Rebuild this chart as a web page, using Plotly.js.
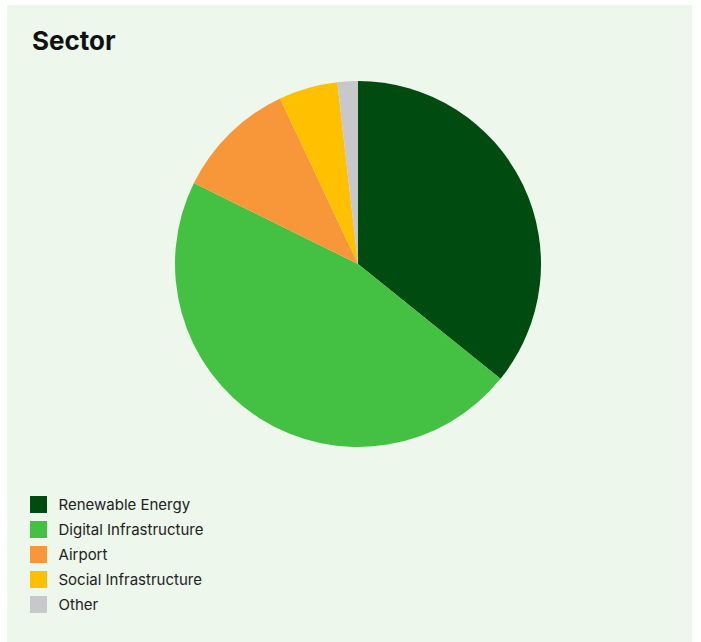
<!DOCTYPE html>
<html>
<head>
<meta charset="utf-8">
<script src="https://cdn.plot.ly/plotly-3.0.1.min.js"></script>
<style>
  html, body { margin: 0; padding: 0; background: #ffffff; }
  #chart { position: absolute; left: 7px; top: 5px; width: 685px; height: 637px; }
</style>
</head>
<body>
<div id="chart"></div>
<script>
const labels = ["Renewable Energy", "Digital Infrastructure", "Airport", "Social Infrastructure", "Other"];
const values = [35.8, 46.5, 10.7, 5.2, 1.8];
const colors = ["#004B10", "#44C043", "#F7973A", "#FFC000", "#C8C8CA"];

const W = 685, H = 637;
const data = [{
  type: "pie",
  labels: labels,
  values: values,
  sort: false,
  direction: "clockwise",
  rotation: 0,
  textinfo: "none",
  hoverinfo: "label+percent",
  marker: { colors: colors, line: { width: 0 } },
  domain: { x: [168 / W, 534 / W], y: [195 / H, 561 / H] }
}];

const layout = {
  width: W,
  height: H,
  margin: { l: 0, r: 0, t: 0, b: 0 },
  paper_bgcolor: "#EDF7EC",
  font: { family: "Inter, 'Noto Sans', sans-serif", color: "#222222" },
  title: {
    text: "<b>Sector</b>",
    font: { size: 26, color: "#111111", family: "Inter, 'Noto Sans', sans-serif" },
    x: 25 / W, xanchor: "left", xref: "paper",
    y: 1 - 36 / H, yanchor: "middle", yref: "container"
  },
  showlegend: true,
  legend: {
    x: 11.5 / W, xanchor: "left",
    y: 1 - 488 / H, yanchor: "top",
    font: { size: 15, color: "#222222" },
    bgcolor: "rgba(0,0,0,0)",
    tracegroupgap: 0
  }
};

Plotly.newPlot("chart", data, layout, { displayModeBar: false }).then(function (gd) {
  // enlarge legend swatches to match the reference
  document.querySelectorAll("#chart .legendpoints path").forEach(function (p) {
    p.setAttribute("d", "M8.5,8.5H-8.5V-8.5H8.5Z");
  });
  // widen row spacing
  const items = document.querySelectorAll("#chart .legend .traces");
  items.forEach(function (t, i) {
    t.setAttribute("transform", "translate(0," + (11.5 + i * 25) + ")");
  });
});
</script>
</body>
</html>
